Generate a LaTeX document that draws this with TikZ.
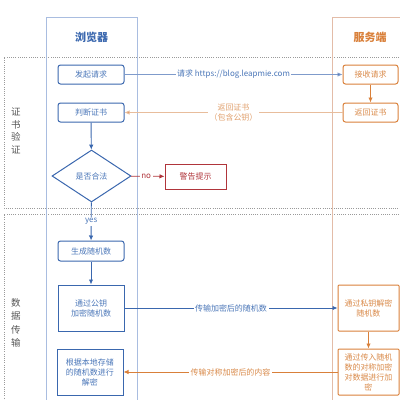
\documentclass[tikz,border=0pt]{standalone}
\usepackage{fontspec}
\setmainfont{Noto Sans CJK SC}
\usetikzlibrary{arrows.meta,shapes.geometric}
\definecolor{blueC}{HTML}{3A67AE}
\definecolor{blueT}{HTML}{4A76B8}
\definecolor{blueL}{HTML}{7F9BCB}
\definecolor{laneB}{HTML}{A9BDE0}
\definecolor{orgC}{HTML}{D9803A}
\definecolor{orgT}{HTML}{D98A4A}
\definecolor{orgL}{HTML}{E8BD9C}
\definecolor{laneO}{HTML}{E3BCA8}
\definecolor{redC}{HTML}{B0353B}
\definecolor{grayT}{HTML}{555555}
\definecolor{dotC}{HTML}{9A9A9A}
\tikzset{
  txt/.style={font=\fontsize{8}{10}\selectfont, align=center, inner sep=1pt},
  bbox/.style={txt, draw=blueC, text=blueT, line width=1pt, rounded corners=2.5pt},
  bbig/.style={txt, draw=blueC, text=blueT, line width=1pt},
  obox/.style={txt, draw=orgC, text=orgT, line width=1pt, rounded corners=2.5pt},
  obig/.style={txt, draw=orgC, text=orgT, line width=1pt, rounded corners=1pt},
  tipB/.style={-{Latex[length=5pt,width=4.5pt]}},
  secline/.style={draw=dotC, line width=0.6pt, dash pattern=on 0.8pt off 1.4pt},
  lbl/.style={txt, fill=white, inner sep=1.5pt},
}
\begin{document}
\begin{tikzpicture}[x=1pt,y=-1pt]
\useasboundingbox (0,0) rectangle (400,400);
\begin{scope}
\clip (0,0) rectangle (400,400);
% section frames
\draw[secline] (410,57) -- (4,57) -- (4,208) -- (410,208);
\draw[secline] (410,214) -- (4,214) -- (4,410);
% lanes
\draw[laneB, line width=0.8pt] (46,410) -- (46,17) -- (137,17) -- (137,410);
\draw[laneO, line width=0.8pt] (332,410) -- (332,17) -- (410,17);
\end{scope}
% headers
\node[font=\fontsize{11}{13}\selectfont\bfseries, text=blueC] (hb) at (91.5,37) {浏览器};
\node[font=\fontsize{11}{13}\selectfont\bfseries, text=orgC] (hs) at (370,37) {服务端};
% side labels
\node[font=\fontsize{9.5}{12.5}\selectfont, text=grayT, align=center] (s1) at (16,131) {证\\书\\验\\证};
\node[font=\fontsize{9.5}{13.5}\selectfont, text=grayT, align=center] (s2) at (16,323) {数\\据\\传\\输};
% browser nodes
\node[bbox, minimum width=66pt, minimum height=19pt] (fq) at (91,74.5) {发起请求};
\node[bbox, minimum width=66pt, minimum height=19pt] (pd) at (91,112.5) {判断证书};
\node[diamond, draw=blueC, line width=1pt, text=blueT, font=\fontsize{8}{10}\selectfont, minimum width=79pt, minimum height=52pt, inner sep=0pt] (hf) at (91.5,176) {是否合法};
\node[txt, draw=redC, text=redC, line width=1pt, minimum width=61pt, minimum height=25pt] (jg) at (195.5,176.5) {警告提示};
\node[bbox, minimum width=66pt, minimum height=20pt] (sc) at (91,251) {生成随机数};
\node[bbig, minimum width=66pt, minimum height=46pt] (gy) at (91,308) {通过公钥\\加密随机数};
\node[bbig, minimum width=66pt, minimum height=46pt] (gj) at (90,372) {根据本地存储\\的随机数进行\\解密};
% server nodes
\node[obox, minimum width=55pt, minimum height=19pt] (js) at (370.5,74.5) {接收请求};
\node[obox, minimum width=55pt, minimum height=19pt] (fh) at (370.5,112.5) {返回证书};
\node[obig, minimum width=61pt, minimum height=46pt] (sy) at (368.5,308) {通过私钥解密\\随机数};
\node[obig, minimum width=61pt, minimum height=46pt] (cr) at (368.5,372) {通过传入随机\\数的对称加密\\对数据进行加\\密};
% connectors
\draw[blueL, line width=0.8pt, -{Latex[length=5pt,width=4.5pt,fill=blueC]}] (fq) -- node[lbl, text=blueT] {请求 https://blog.leapmie.com} (js);
\draw[orgC, line width=0.9pt, tipB] (js) -- (fh);
\draw[orgL, line width=0.8pt, -{Latex[length=5pt,width=4.5pt,fill=orgC]}] (fh) -- node[lbl, text=orgT!80] {返回证书\\（包含公钥）} (pd);
\draw[blueC, line width=0.9pt, tipB] (pd) -- (hf);
\draw[redC, line width=0.8pt, tipB] (hf) -- node[lbl, text=redC, pos=0.45] {no} (jg);
\draw[blueC, line width=0.9pt, tipB] (hf) -- node[lbl, text=blueT, pos=0.5] {yes} (sc);
\draw[blueC, line width=0.9pt, tipB] (sc) -- (gy);
\draw[blueC, line width=0.8pt, tipB] (gy) -- node[lbl, text=blueT] {传输加密后的随机数} (sy);
\draw[orgC, line width=0.9pt, tipB] (sy) -- (cr);
\draw[orgC, line width=0.8pt, tipB] (cr) -- node[lbl, text=orgT] {传输对称加密后的内容} (gj);
\end{tikzpicture}
\end{document}
